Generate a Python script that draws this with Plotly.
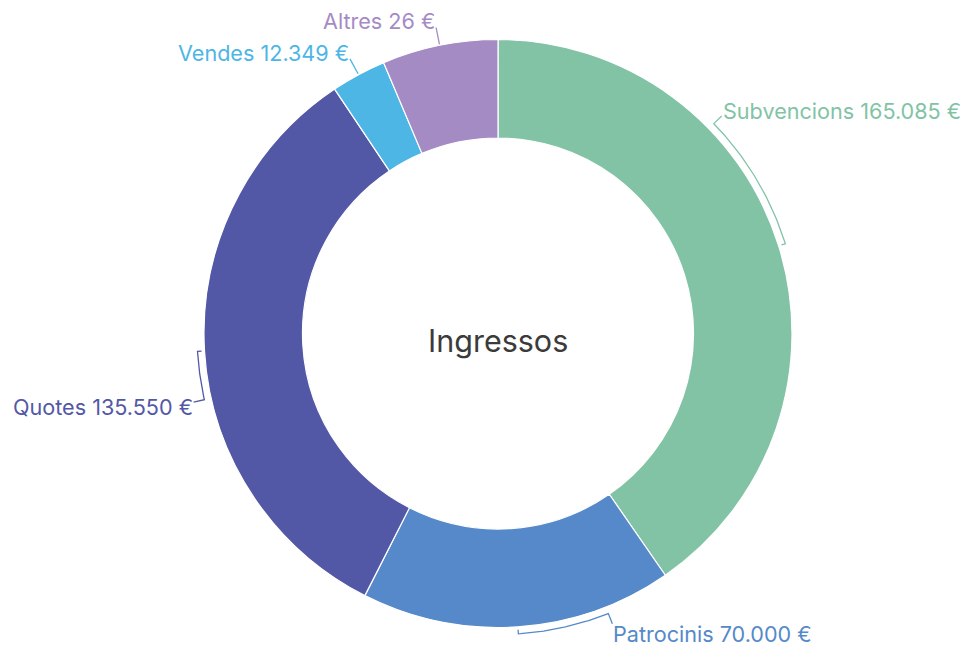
import math
import plotly.graph_objects as go

# ---------------- data ----------------
categories = ["Subvencions", "Patrocinis", "Quotes", "Vendes", "Altres"]
values = [165085, 70000, 135550, 12349, 26000]
value_labels = ["165.085 €", "70.000 €", "135.550 €", "12.349 €", "26 €"]
center_title = "Ingressos"

# ---------------- styling / layout ----------------
colors = ["#82C3A6", "#5589C9", "#5358A6", "#4DB6E5", "#A58BC4"]
PAGE_W, PAGE_H = 970, 651
OFF = 8                      # default page body margin
W, H = PAGE_W - OFF, PAGE_H - OFF
CX, CY, R = 498, 333.5, 294  # in page pixels
HOLE = 0.665
FONT = "Inter, Lato, sans-serif"
LABEL_SIZE = 21.6
TITLE_SIZE = 30.5
# angle (deg, clockwise from 12 o'clock) at which each label sits; None = slice middle
label_angle = {"Subvencions": 45.8, "Patrocinis": 158.5, "Quotes": 257.3,
               "Vendes": None, "Altres": None}
# vertical offset (px) of the text centre from the leader end
label_dy = {"Subvencions": -5, "Patrocinis": 10, "Quotes": 5,
            "Vendes": -6, "Altres": -7}
R_ARC = 301
R_LEAD = 312


def pt(angle_deg, r):
    a = math.radians(angle_deg)
    return CX + r * math.sin(a), CY - r * math.cos(a)


fig = go.Figure()

fig.add_trace(go.Pie(
    labels=categories, values=values, sort=False, direction="clockwise",
    rotation=0, hole=HOLE, textinfo="none",
    marker=dict(colors=colors, line=dict(color="white", width=1.2)),
    domain=dict(x=[(CX - R - OFF) / W, (CX + R - OFF) / W],
                y=[(PAGE_H - (CY + R)) / H, (PAGE_H - (CY - R)) / H]),
    hovertemplate="%{label}: %{value}<extra></extra>",
    showlegend=False,
))

total = float(sum(values))
start = 0.0
annotations = []
for cat, val, txt, col in zip(categories, values, value_labels, colors):
    span = val / total * 360.0
    mid = start + span / 2
    start += span
    la = label_angle[cat] if label_angle[cat] is not None else mid
    xs, ys = [], []
    if abs(la - mid) > 0.5:
        # small radial tick at the slice middle, arc along the ring, then radial leader
        x0, y0 = pt(mid, R + 3)
        xs.append(x0); ys.append(y0)
        n = 40
        for i in range(n + 1):
            a = mid + (la - mid) * i / n
            x, y = pt(a, R_ARC)
            xs.append(x); ys.append(y)
        x, y = pt(la, R_LEAD)
        xs.append(x); ys.append(y)
    else:
        for r in (R + 1, R_LEAD):
            x, y = pt(la, r)
            xs.append(x); ys.append(y)
    fig.add_trace(go.Scatter(x=xs, y=ys, mode="lines", hoverinfo="skip",
                             line=dict(color=col, width=1.3), showlegend=False))
    tx, ty = pt(la, R_LEAD)
    right = math.sin(math.radians(la)) > 0
    annotations.append(dict(
        x=tx, y=ty + label_dy[cat], xref="x", yref="y", text=f"{cat} {txt}",
        showarrow=False, xanchor="left" if right else "right", yanchor="middle",
        borderpad=0, font=dict(family=FONT, size=LABEL_SIZE, color=col)))

annotations.append(dict(x=CX, y=CY + 7, xref="x", yref="y", text=center_title,
                        showarrow=False, xanchor="center", yanchor="middle",
                        font=dict(family=FONT, size=TITLE_SIZE, color="#3b3b3b")))

fig.update_layout(
    width=W, height=H, margin=dict(l=0, r=0, t=0, b=0),
    paper_bgcolor="white", plot_bgcolor="rgba(0,0,0,0)",
    xaxis=dict(range=[OFF, PAGE_W], visible=False, fixedrange=True),
    yaxis=dict(range=[PAGE_H, OFF], visible=False, fixedrange=True),
    annotations=annotations, showlegend=False,
)

fig.write_html("out.html")
